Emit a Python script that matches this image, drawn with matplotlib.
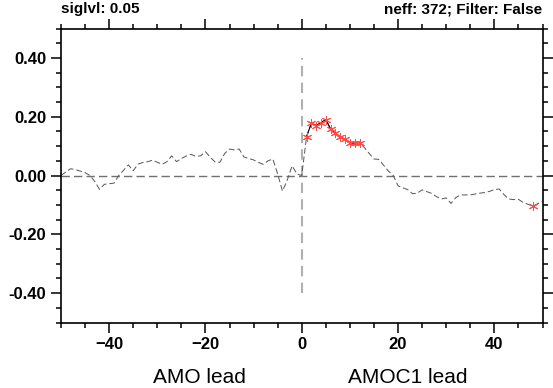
import matplotlib
matplotlib.use('Agg')
import matplotlib.pyplot as plt
import numpy as np
from matplotlib.ticker import MultipleLocator

# lags (years) and lagged correlation
lags = np.arange(-50, 51)
corr = [
    0.000, 0.012, 0.023, 0.020, 0.015, 0.010, 0.000, -0.020, -0.047, -0.030,   # -50..-41
    -0.028, -0.026, 0.000, 0.018, 0.036, 0.016, 0.039, 0.044, 0.047, 0.052,    # -40..-31
    0.045, 0.038, 0.047, 0.067, 0.047, 0.058, 0.066, 0.072, 0.065, 0.067,      # -30..-21
    0.081, 0.062, 0.046, 0.045, 0.075, 0.090, 0.087, 0.090, 0.063, 0.058,      # -20..-11
    0.053, 0.045, 0.038, 0.050, 0.056, 0.005, -0.053, -0.015, 0.033, 0.005,    # -10..-1
    0.000,                                                                     # 0
    0.132, 0.178, 0.170, 0.180, 0.190, 0.158, 0.143, 0.130, 0.123, 0.110,      # 1..10
    0.110, 0.112, 0.095, 0.075, 0.056, 0.055, 0.035, 0.015, 0.000, -0.035,     # 11..20
    -0.042, -0.048, -0.062, -0.060, -0.049, -0.055, -0.061, -0.072, -0.080, -0.076,  # 21..30
    -0.095, -0.075, -0.066, -0.066, -0.066, -0.063, -0.060, -0.058, -0.054, -0.048,  # 31..40
    -0.046, -0.065, -0.080, -0.082, -0.081, -0.092, -0.098, -0.104, -0.096, -0.088,  # 41..50
]
corr = np.array(corr)

# lags where the correlation passes the 0.05 significance level
sig_lags = list(range(1, 13)) + [48]

left_title = 'siglvl: 0.05'
right_title = 'neff: 372; Filter: False'

W, H = 553, 388
fig = plt.figure(figsize=(W / 100, H / 100), dpi=100)
ax = fig.add_axes([61 / W, 65.5 / H, 481.5 / W, 294 / H])

font = 'Liberation Sans'

# reference lines
ax.axhline(0, color='#707070', lw=1.0, linestyle=(0, (6, 3)), zorder=1)
ax.plot([0, 0], [-0.4, 0.4], color='#b0b0b0', lw=1.5, linestyle=(0, (5, 3)), zorder=1)

# full series, dashed
ax.plot(lags, corr, color='#555555', lw=0.7, linestyle=(0, (6, 3)), zorder=2)

# significant points
sig = np.where(np.isin(lags, sig_lags), corr, np.nan)
ax.plot(lags, sig, color='black', lw=0.8, zorder=3)
ax.plot(lags, sig, linestyle='none', marker=(6, 2, 0), markersize=6.5,
        markeredgecolor='#ff4a4a', markeredgewidth=0.7, zorder=4)

ax.set_xlim(-50, 50)
ax.set_ylim(-0.5, 0.5)
ax.xaxis.set_major_locator(MultipleLocator(20))
ax.xaxis.set_minor_locator(MultipleLocator(5))
ax.yaxis.set_major_locator(MultipleLocator(0.2))
ax.yaxis.set_minor_locator(MultipleLocator(0.05))
ax.set_yticks([-0.4, -0.2, 0.0, 0.2, 0.4])
ax.set_yticklabels(['-0.40', '-0.20', '0.00', '0.20', '0.40'])

ax.tick_params(which='both', direction='out', top=True, right=True, width=1.1)
ax.tick_params(which='major', length=7.5, pad=3, labelsize=12)
ax.tick_params(which='minor', length=3.8)
for lab in ax.get_xticklabels() + ax.get_yticklabels():
    lab.set_fontfamily(font)
    lab.set_fontweight('bold')
for sp in ax.spines.values():
    sp.set_linewidth(1.2)

fig.text(61 / W, 1 - 13 / H, left_title, ha='left', va='baseline',
         fontsize=11, fontweight='bold', family=font)
fig.text(542.5 / W, 1 - 13 / H, right_title, ha='right', va='baseline',
         fontsize=11, fontweight='bold', family=font)

fig.text(199 / W, 1 - 383 / H, 'AMO lead', ha='center', va='baseline',
         fontsize=15, family=font)
fig.text(407.5 / W, 1 - 383 / H, 'AMOC1 lead', ha='center', va='baseline',
         fontsize=15, family=font)

plt.savefig('out.png', dpi=100)
plt.close()
